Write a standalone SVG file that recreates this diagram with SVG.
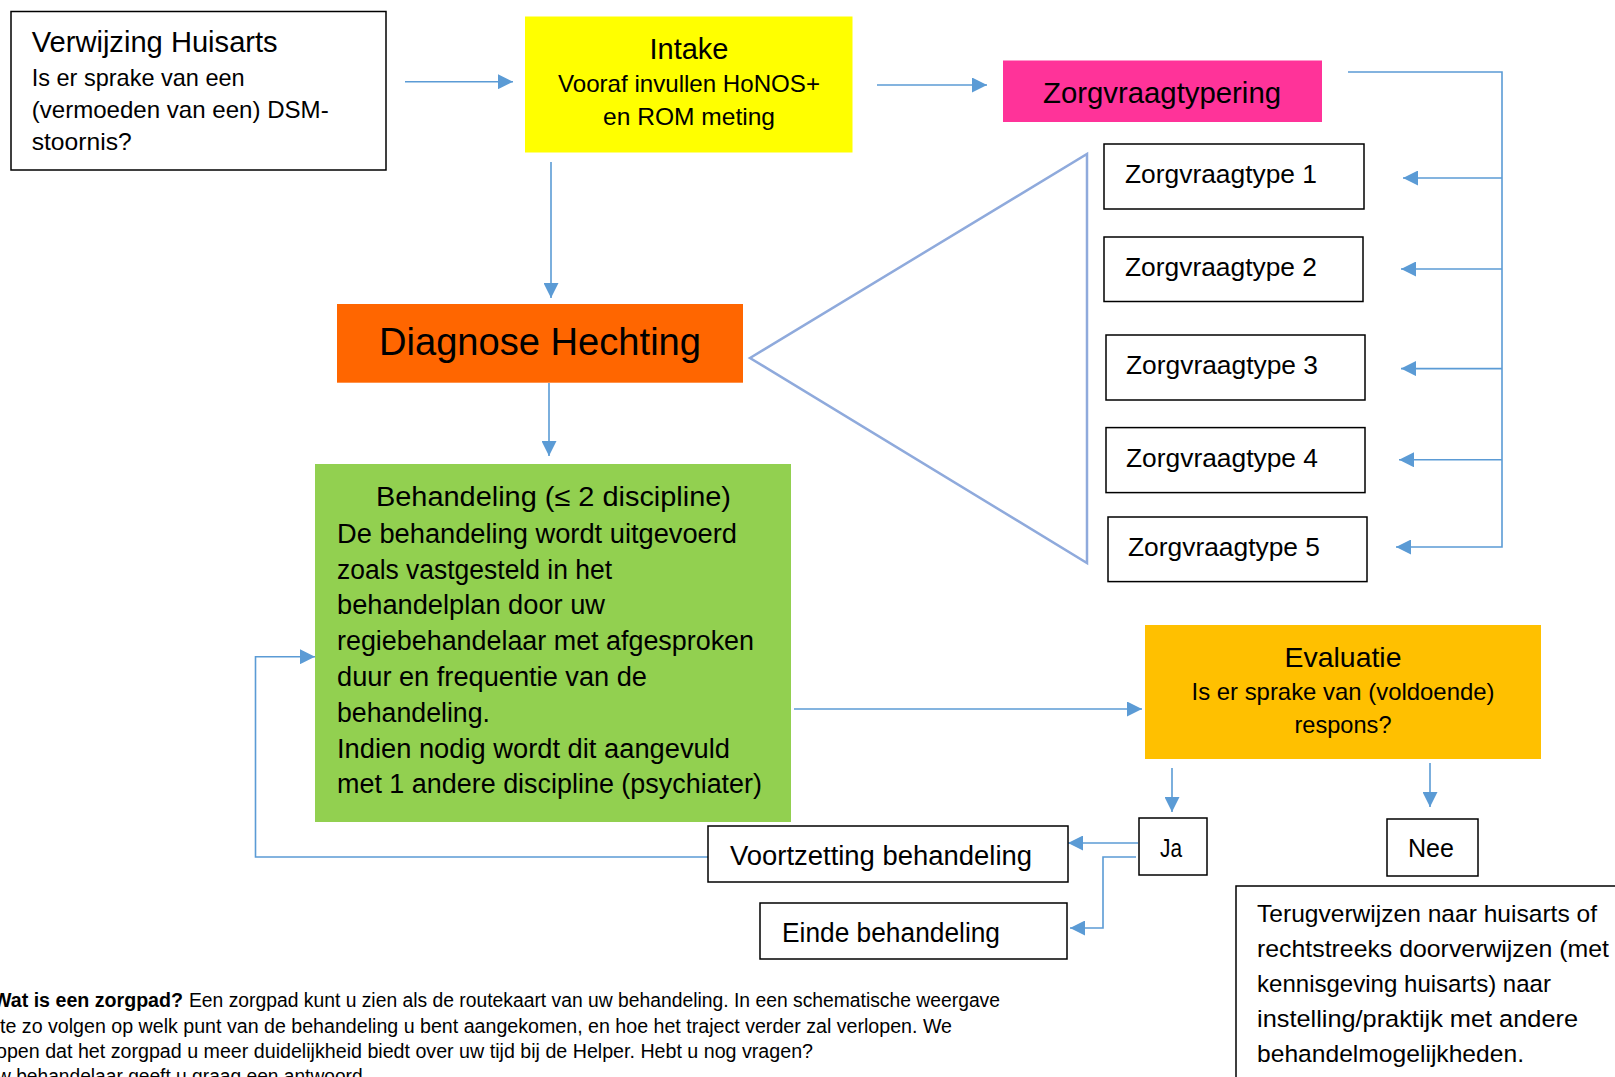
<svg xmlns="http://www.w3.org/2000/svg" width="1615" height="1077" viewBox="0 0 1615 1077">
<style>
text{font-family:"Liberation Sans",Arial,sans-serif;fill:#000}
.box{stroke:#000;stroke-width:1.5;fill:#fff}
.con{fill:none;stroke:#5B9BD5;stroke-width:1.6}
.arr{marker-end:url(#ah)}
.tri{fill:none;stroke:#8FAADC;stroke-width:2.5}
.c{text-anchor:middle}
</style>
<defs>
<marker id="ah" markerUnits="userSpaceOnUse" markerWidth="15" markerHeight="15" refX="15" refY="7.5" orient="auto">
<path d="M0,0 L15,7.5 L0,15 z" fill="#5B9BD5"/>
</marker>
</defs>
<rect width="1615" height="1077" fill="#fff"/>

<g id="connectors">
<path class="con arr" d="M405,81.7 H513"/>
<path class="con arr" d="M877,85 H987"/>
<path class="con arr" d="M551,162 V298"/>
<path class="con arr" d="M549,383 V456"/>
<path class="con arr" d="M1348,72 H1502 V547 H1396"/>
<path class="con arr" d="M1502,178 H1403"/>
<path class="con arr" d="M1502,269 H1401"/>
<path class="con arr" d="M1502,368.6 H1401"/>
<path class="con arr" d="M1502,459.8 H1399"/>
<path class="con arr" d="M794,709 H1142"/>
<path class="con arr" d="M1172,768 V812"/>
<path class="con arr" d="M1430,763 V807"/>
<path class="con arr" d="M1138,843 H1068"/>
<path class="con arr" d="M1136,857 H1103 V928 H1070"/>
<path class="con arr" d="M708,857 H255.5 V656.7 H315"/>
<polygon class="tri" points="750,358 1087,154 1087,563"/>
</g>

<g id="verwijzing">
<rect class="box" x="11" y="11.5" width="375" height="158.5"/>
<text x="31.7" y="52" font-size="29" textLength="246" lengthAdjust="spacingAndGlyphs">Verwijzing Huisarts</text>
<text x="31.7" y="86" font-size="24" textLength="213" lengthAdjust="spacingAndGlyphs">Is er sprake van een</text>
<text x="31.7" y="118" font-size="24" textLength="297" lengthAdjust="spacingAndGlyphs">(vermoeden van een) DSM-</text>
<text x="31.7" y="150" font-size="24" textLength="100" lengthAdjust="spacingAndGlyphs">stoornis?</text>
</g>

<g id="intake">
<rect x="525" y="16.5" width="327.5" height="136" fill="#FFFF00"/>
<text class="c" x="689" y="59" font-size="29">Intake</text>
<text class="c" x="689" y="92" font-size="24" textLength="262" lengthAdjust="spacingAndGlyphs">Vooraf invullen HoNOS+</text>
<text class="c" x="689" y="125" font-size="24" textLength="172" lengthAdjust="spacingAndGlyphs">en ROM meting</text>
</g>

<g id="zorgvraagtypering">
<rect x="1003" y="60.5" width="319" height="61.5" fill="#FF3399"/>
<text class="c" x="1162" y="103" font-size="29" textLength="238" lengthAdjust="spacingAndGlyphs">Zorgvraagtypering</text>
</g>

<g id="zorgvraagtype1">
<rect class="box" x="1104" y="144" width="260" height="65"/>
<text x="1125" y="183" font-size="26.4" textLength="192" lengthAdjust="spacingAndGlyphs">Zorgvraagtype 1</text>
</g>
<g id="zorgvraagtype2">
<rect class="box" x="1104" y="237" width="259" height="64.5"/>
<text x="1125" y="275.5" font-size="26.4" textLength="192" lengthAdjust="spacingAndGlyphs">Zorgvraagtype 2</text>
</g>
<g id="zorgvraagtype3">
<rect class="box" x="1106" y="335" width="259" height="65"/>
<text x="1126" y="373.6" font-size="26.4" textLength="192" lengthAdjust="spacingAndGlyphs">Zorgvraagtype 3</text>
</g>
<g id="zorgvraagtype4">
<rect class="box" x="1106" y="427.6" width="259" height="65"/>
<text x="1126" y="467" font-size="26.4" textLength="192" lengthAdjust="spacingAndGlyphs">Zorgvraagtype 4</text>
</g>
<g id="zorgvraagtype5">
<rect class="box" x="1108" y="517" width="259" height="64.6"/>
<text x="1128" y="555.6" font-size="26.4" textLength="192" lengthAdjust="spacingAndGlyphs">Zorgvraagtype 5</text>
</g>

<g id="diagnose">
<rect x="337" y="304" width="406" height="78.7" fill="#FF6600"/>
<text class="c" x="540" y="355" font-size="38" textLength="322" lengthAdjust="spacingAndGlyphs">Diagnose Hechting</text>
</g>

<g id="behandeling">
<rect x="315" y="464" width="476" height="358" fill="#92D050"/>
<text x="376" y="506" font-size="27" textLength="355" lengthAdjust="spacingAndGlyphs">Behandeling (≤ 2 discipline)</text>
<text x="337" y="543" font-size="27" textLength="400" lengthAdjust="spacingAndGlyphs">De behandeling wordt uitgevoerd</text>
<text x="337" y="578.5" font-size="27" textLength="275" lengthAdjust="spacingAndGlyphs">zoals vastgesteld in het</text>
<text x="337" y="614" font-size="27" textLength="268" lengthAdjust="spacingAndGlyphs">behandelplan door uw</text>
<text x="337" y="650" font-size="27" textLength="417" lengthAdjust="spacingAndGlyphs">regiebehandelaar met afgesproken</text>
<text x="337" y="686" font-size="27" textLength="310" lengthAdjust="spacingAndGlyphs">duur en frequentie van de</text>
<text x="337" y="722" font-size="27" textLength="153" lengthAdjust="spacingAndGlyphs">behandeling.</text>
<text x="337" y="757.5" font-size="27" textLength="393" lengthAdjust="spacingAndGlyphs">Indien nodig wordt dit aangevuld</text>
<text x="337" y="793" font-size="27" textLength="425" lengthAdjust="spacingAndGlyphs">met 1 andere discipline (psychiater)</text>
</g>

<g id="evaluatie">
<rect x="1145" y="625" width="396" height="134" fill="#FFC000"/>
<text class="c" x="1343" y="667" font-size="28.5" textLength="117" lengthAdjust="spacingAndGlyphs">Evaluatie</text>
<text class="c" x="1343" y="700" font-size="24" textLength="303" lengthAdjust="spacingAndGlyphs">Is er sprake van (voldoende)</text>
<text class="c" x="1343" y="733" font-size="24" textLength="97" lengthAdjust="spacingAndGlyphs">respons?</text>
</g>

<g id="ja">
<rect class="box" x="1139" y="818" width="68" height="57"/>
<text class="c" x="1171" y="857" font-size="26" textLength="22" lengthAdjust="spacingAndGlyphs">Ja</text>
</g>
<g id="nee">
<rect class="box" x="1387" y="819" width="91" height="57"/>
<text class="c" x="1431" y="857" font-size="26" textLength="46" lengthAdjust="spacingAndGlyphs">Nee</text>
</g>

<g id="voortzetting">
<rect class="box" x="708" y="826" width="360" height="56"/>
<text x="730" y="865" font-size="27" textLength="302" lengthAdjust="spacingAndGlyphs">Voortzetting behandeling</text>
</g>
<g id="einde">
<rect class="box" x="760" y="903" width="307" height="56"/>
<text x="782" y="942" font-size="27" textLength="218" lengthAdjust="spacingAndGlyphs">Einde behandeling</text>
</g>

<g id="terugverwijzen">
<rect class="box" x="1236" y="886" width="500" height="300"/>
<text x="1257" y="922" font-size="24.5" textLength="340" lengthAdjust="spacingAndGlyphs">Terugverwijzen naar huisarts of</text>
<text x="1257" y="957" font-size="24.5" textLength="352" lengthAdjust="spacingAndGlyphs">rechtstreeks doorverwijzen (met</text>
<text x="1257" y="992" font-size="24.5" textLength="294" lengthAdjust="spacingAndGlyphs">kennisgeving huisarts) naar</text>
<text x="1257" y="1027" font-size="24.5" textLength="321" lengthAdjust="spacingAndGlyphs">instelling/praktijk met andere</text>
<text x="1257" y="1062" font-size="24.5" textLength="267" lengthAdjust="spacingAndGlyphs">behandelmogelijkheden.</text>
</g>

<g id="toelichting">
<text x="-7" y="1007" font-size="19.5" font-weight="bold" textLength="190" lengthAdjust="spacingAndGlyphs">Wat is een zorgpad?</text>
<text x="189" y="1007" font-size="19.5" textLength="811" lengthAdjust="spacingAndGlyphs">Een zorgpad kunt u zien als de routekaart van uw behandeling. In een schematische weergave</text>
<text x="0" y="1032.5" font-size="19.5" textLength="952" lengthAdjust="spacingAndGlyphs">te zo volgen op welk punt van de behandeling u bent aangekomen, en hoe het traject verder zal verlopen. We</text>
<text x="-4" y="1058" font-size="19.5" textLength="817" lengthAdjust="spacingAndGlyphs">open dat het zorgpad u meer duidelijkheid biedt over uw tijd bij de Helper. Hebt u nog vragen?</text>
<text x="-3" y="1083" font-size="19.5" textLength="371" lengthAdjust="spacingAndGlyphs">w behandelaar geeft u graag een antwoord.</text>
</g>
</svg>
